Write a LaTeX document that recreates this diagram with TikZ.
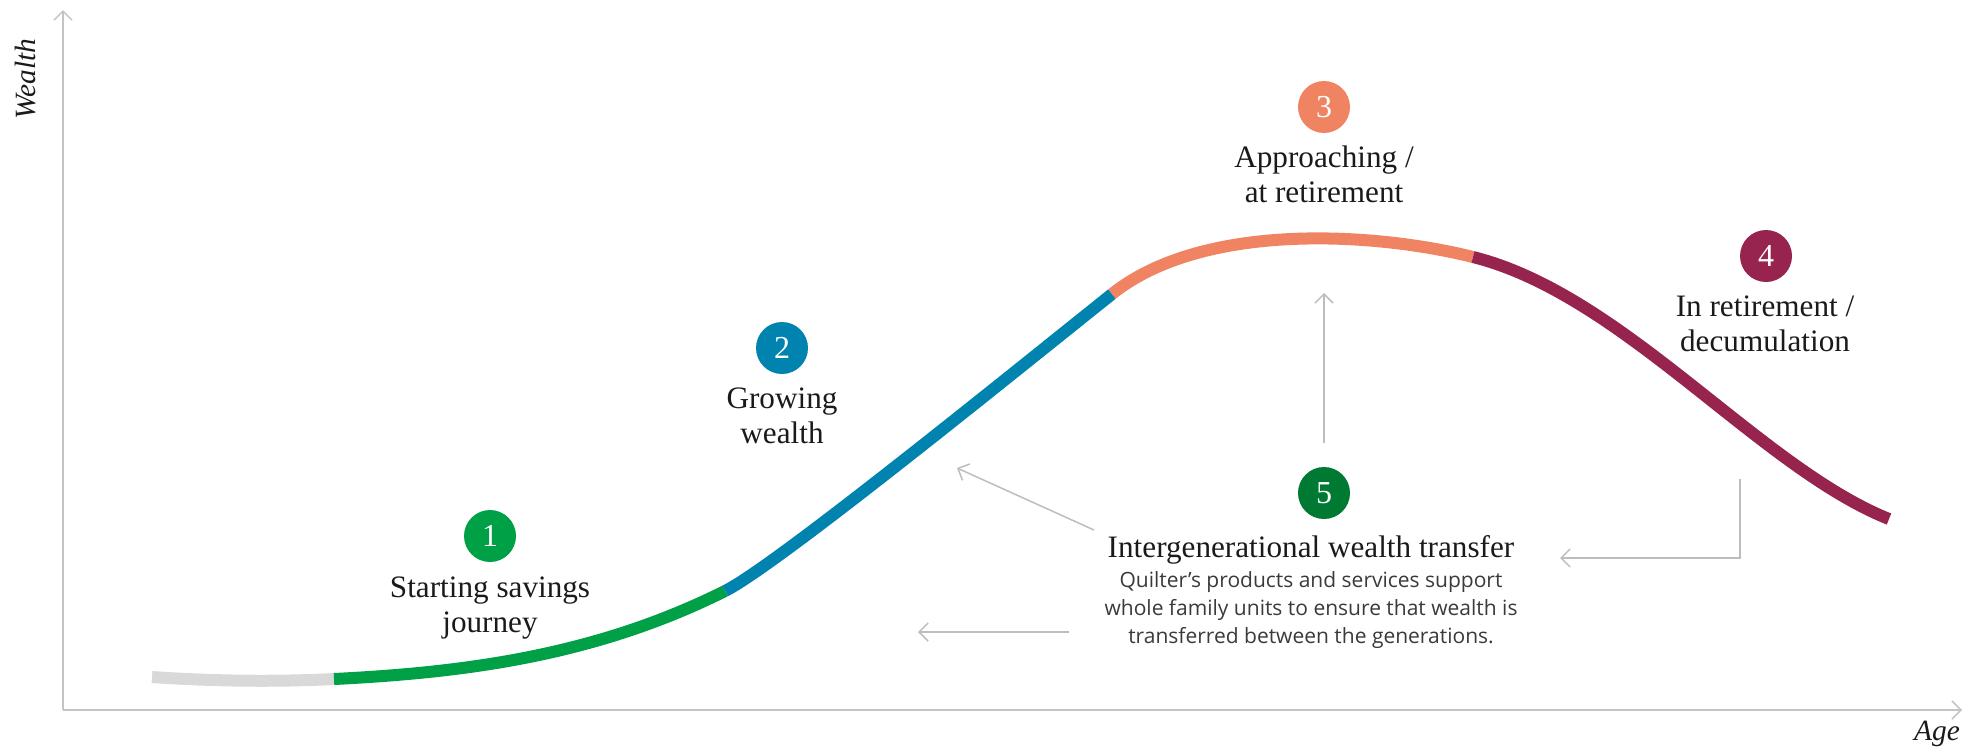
\documentclass[tikz,border=0pt]{standalone}
\usepackage{fontspec}
\setmainfont{Liberation Serif}
\newfontfamily\bodyfont{Open Sans}
\usetikzlibrary{arrows.meta}
\definecolor{cgray}{HTML}{D9D9D9}
\definecolor{cgreen}{HTML}{00A047}
\definecolor{cblue}{HTML}{0083AE}
\definecolor{corange}{HTML}{F08462}
\definecolor{cmaroon}{HTML}{96244E}
\definecolor{cdkgreen}{HTML}{007A33}
\definecolor{axisgray}{HTML}{C4C4C4}
\definecolor{arrowgray}{HTML}{BDBDBD}
\definecolor{textblack}{HTML}{1A1A1A}
\definecolor{bodygray}{HTML}{3A3A3A}
\begin{document}
\begin{tikzpicture}[x=0.5pt,y=-0.5pt,
  curve/.style={line width=6pt},
  axis/.style={draw=axisgray, line width=0.75pt, -{Straight Barb[length=4.5pt,width=9pt]}},
  pointer/.style={draw=arrowgray, line width=0.75pt, -{Straight Barb[length=4.5pt,width=9pt]}},
  badge/.style={circle, minimum size=26pt, inner sep=0pt, text=white, font=\fontsize{16}{16}\selectfont},
  stage/.style={align=center, anchor=base, text=textblack, inner sep=0pt, font=\fontsize{15.6}{17.5}\selectfont},
  bodytext/.style={align=center, anchor=base, text=bodygray, inner sep=0pt, font=\bodyfont\fontsize{10.5}{14}\selectfont},
  axislabel/.style={anchor=base, text=textblack, inner sep=0pt, font=\itshape\fontsize{14.7}{16}\selectfont}]
\useasboundingbox (0,0) rectangle (1975,746);

% axes
\coordinate (origin) at (63,710);
\coordinate (ytop) at (63,10);
\coordinate (xend) at (1962,710);
\draw[axis] (origin) -- (ytop);
\draw[axis] (origin) -- (xend);
\node[axislabel, rotate=90] (wealth) at (35,79) {Wealth};
\node[axislabel] (age) at (1937,740) {Age};

% curve
\draw[curve, draw=cgray] (152,677) .. controls (210,681) and (274,682) .. (334,679);
\draw[curve, draw=cgreen] (334,679) .. controls (464,672.5) and (595,656) .. (725,591);
\draw[curve, draw=cblue] (725,591) .. controls (775,566) and (1000,383.6) .. (1112,294);
\draw[curve, draw=corange] (1112,294) .. controls (1202,222) and (1373,232) .. (1473,257);
\draw[curve, draw=cmaroon] (1473,257) .. controls (1623,294.5) and (1759,467) .. (1889,519);

% badges and labels (base anchor = last line)
\node[badge, fill=cgreen] (b1) at (490,536) {1};
\node[stage] (s1) at (490,632) {Starting savings\\journey};
\node[badge, fill=cblue] (b2) at (782,348) {2};
\node[stage] (s2) at (782,443) {Growing\\wealth};
\node[badge, fill=corange] (b3) at (1324,107) {3};
\node[stage] (s3) at (1324,202) {Approaching /\\at retirement};
\node[badge, fill=cmaroon] (b4) at (1766,256) {4};
\node[stage] (s4) at (1765,351) {In retirement /\\decumulation};
\node[badge, fill=cdkgreen] (b5) at (1324,493) {5};
\node[stage] (s5) at (1311,557) {Intergenerational wealth transfer};
\node[bodytext] (d5) at (1311,643) {Quilter’s products and services support\\whole family units to ensure that wealth is\\transferred between the generations.};

% pointers
\coordinate (upfrom) at (1324,443);
\coordinate (upto) at (1324,293);
\coordinate (diagfrom) at (1094,530);
\coordinate (diagto) at (957,468);
\coordinate (leftfrom) at (1069,632);
\coordinate (leftto) at (918,632);
\coordinate (rfrom) at (1740,479);
\coordinate (rcorner) at (1740,558);
\coordinate (rto) at (1560,558);
\draw[pointer] (upfrom) -- (upto);
\draw[pointer] (diagfrom) -- (diagto);
\draw[pointer] (leftfrom) -- (leftto);
\draw[pointer] (rfrom) -- (rcorner) -- (rto);
\end{tikzpicture}
\end{document}
